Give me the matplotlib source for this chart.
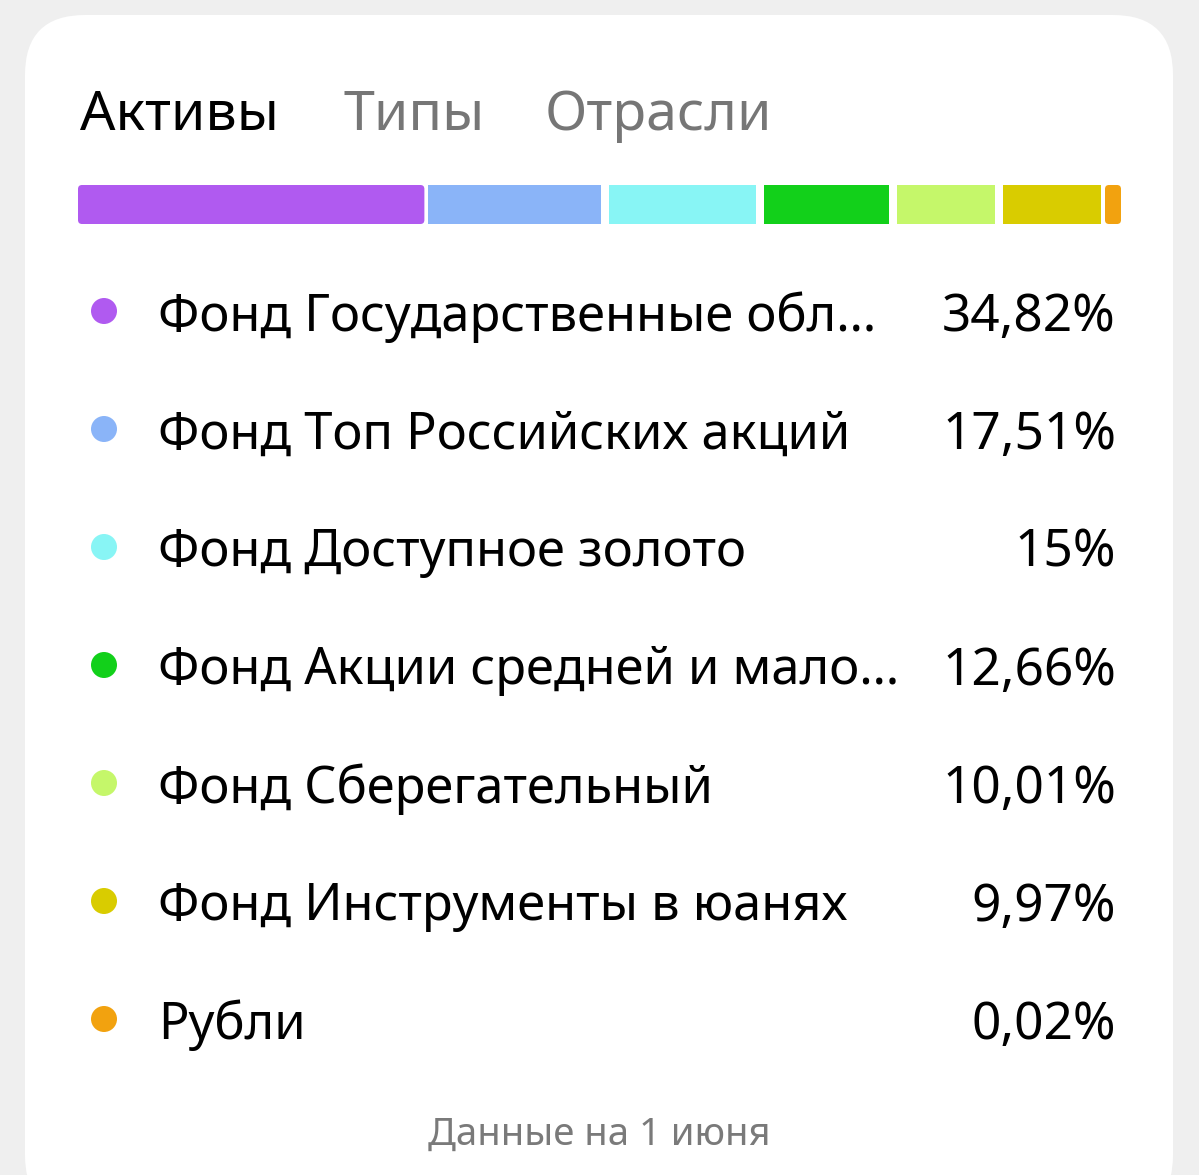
import matplotlib
matplotlib.use("Agg")
import matplotlib.pyplot as plt
from matplotlib.patches import FancyBboxPatch, Circle, Rectangle

plt.rcParams['font.family'] = ['Noto Sans', 'Open Sans', 'DejaVu Sans']

tabs = ["Активы", "Типы", "Отрасли"]
labels = ["Фонд Государственные обл…", "Фонд Топ Российских акций", "Фонд Доступное золото",
          "Фонд Акции средней и мало…", "Фонд Сберегательный", "Фонд Инструменты в юанях", "Рубли"]
values = [34.82, 17.51, 15.0, 12.66, 10.01, 9.97, 0.02]
value_texts = ["34,82%", "17,51%", "15%", "12,66%", "10,01%", "9,97%", "0,02%"]
colors = ["#B05AF0", "#8AB4F8", "#88F5F5", "#12D01A", "#C5F76A", "#D9CC00", "#F2A20F"]
footer = "Данные на 1 июня"

W, H = 1199, 1175
fig = plt.figure(figsize=(W / 100, H / 100), dpi=100)
fig.patch.set_facecolor("#EFEFEF")
ax = fig.add_axes([0, 0, 1, 1])
ax.set_xlim(0, W)
ax.set_ylim(H, 0)
ax.axis("off")

# card
ax.add_patch(FancyBboxPatch((25 + 60, 15 + 60), 1148 - 120, 1200 - 120,
                            boxstyle="round,pad=60", fc="white", ec="none"))

# tabs
tab_x = [80, 343, 545]
for i, (t, x) in enumerate(zip(tabs, tab_x)):
    ax.text(x, 130, t, fontsize=40, fontweight="medium",
            color="black" if i == 0 else "#767676", ha="left", va="baseline")

# stacked bar
bar_left, bar_right = 78, 1121
gap = 8
min_w = 12
y0, y1 = 185, 224
total = sum(values)
n = len(values)
small = [v for v in values if v / total * (bar_right - bar_left) < min_w]
avail = bar_right - bar_left - gap * (n - 1) - min_w * len(small)
big_total = sum(v for v in values if v not in small)
x = bar_left
for i, (v, c) in enumerate(zip(values, colors)):
    w = min_w if v in small else v / big_total * avail
    if i == 0:
        ax.add_patch(FancyBboxPatch((x + 4, y0 + 4), w - 4, y1 - y0 - 8,
                                    boxstyle="round,pad=4", fc=c, ec="none"))
        ax.add_patch(Rectangle((x + w - 6, y0), 6, y1 - y0, fc=c, ec="none"))
    elif i == n - 1:
        ax.add_patch(FancyBboxPatch((x, y0 + 4), w - 4, y1 - y0 - 8,
                                    boxstyle="round,pad=4", fc=c, ec="none"))
        ax.add_patch(Rectangle((x, y0), 6, y1 - y0, fc=c, ec="none"))
    else:
        ax.add_patch(Rectangle((x, y0), w, y1 - y0, fc=c, ec="none"))
    x += w + gap

# legend rows
row0, step = 311, 118
for i, (lab, vt, c) in enumerate(zip(labels, value_texts, colors)):
    y = row0 + i * step
    ax.add_patch(Circle((104, y), 13, fc=c, ec="none"))
    ax.text(158, y, lab, fontsize=36.5, fontweight="medium", color="black",
            ha="left", va="center_baseline")
    ax.text(1116, y, vt, fontsize=37, fontweight="medium", color="black",
            ha="right", va="center_baseline")

ax.text(599, 1130, footer, fontsize=27.5, fontweight="medium", color="#7A7A7A",
        ha="center", va="center_baseline")

fig.savefig("out.png", dpi=100, facecolor=fig.get_facecolor())
